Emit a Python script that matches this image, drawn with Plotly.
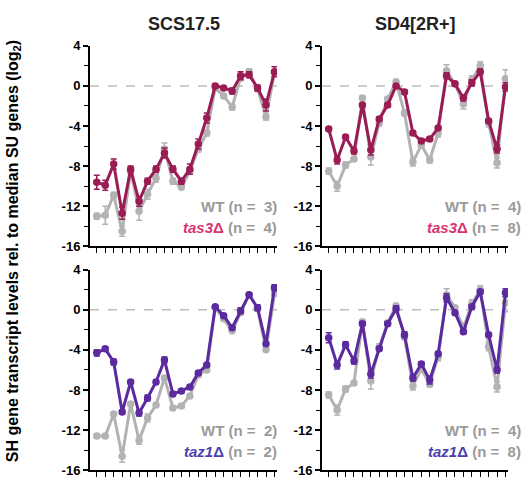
import plotly.graph_objects as go

# Gene positions along the SH cluster (22 genes)
genes = list(range(1, 23))

# SCS17.5 background
wt_scs_a = [-13.0, -12.9, -10.9, -14.5, -8.5, -12.5, -10.8, -9.2, -6.3, -9.5, -10.1, -8.5,
            -6.3, -4.7, -0.2, -1.0, -2.1, 0.8, 1.4, -0.3, -3.1, 1.3]
wt_scs_a_err = [0.3, 0.9, 0.3, 0.5, 0.3, 0.9, 0.5, 0.4, 0.6, 0.3, 0.2, 0.3,
                0.3, 0.3, 0.2, 0.2, 0.3, 0.3, 0.3, 0.2, 0.3, 0.3]
tas3_scs = [-9.6, -9.9, -7.8, -12.7, -8.3, -11.5, -9.5, -8.3, -6.7, -8.3, -9.5, -8.3,
            -5.8, -3.2, 0.0, -0.2, -0.5, 1.0, 1.1, -0.2, -1.9, 1.4]
tas3_scs_err = [0.7, 0.5, 0.5, 0.6, 0.3, 0.5, 0.3, 0.3, 0.5, 0.3, 0.3, 0.5,
                0.5, 0.5, 0.2, 0.1, 0.3, 0.4, 0.3, 0.3, 0.6, 0.5]

wt_scs_b = [-12.6, -12.6, -10.4, -14.6, -9.4, -13.0, -10.8, -9.5, -6.8, -9.8, -9.6, -8.6,
            -6.5, -6.0, 0.2, -0.9, -2.1, -0.3, 1.5, 0.1, -4.0, 1.6]
wt_scs_b_err = [0.2, 0.2, 0.2, 0.6, 0.2, 0.4, 0.4, 0.2, 0.2, 0.2, 0.2, 0.2,
                0.2, 0.2, 0.1, 0.1, 0.1, 0.1, 0.2, 0.1, 0.1, 0.2]
taz1_scs = [-4.3, -3.9, -5.2, -10.2, -7.2, -10.3, -8.8, -7.2, -5.0, -8.4, -8.1, -7.7,
            -6.3, -5.5, 0.3, -0.6, -1.8, -0.1, 1.5, 0.2, -3.4, 2.2]
taz1_scs_err = [0.3, 0.2, 0.3, 0.2, 0.2, 0.3, 0.3, 0.2, 0.3, 0.2, 0.2, 0.2,
                0.2, 0.2, 0.1, 0.2, 0.2, 0.3, 0.2, 0.3, 0.2, 0.3]

# SD4[2R+] background
wt_sd4 = [-8.5, -10.0, -7.9, -7.3, -1.2, -7.1, -3.7, -1.3, 0.4, -2.7, -7.6, -5.9,
          -7.4, -4.7, 1.5, 0.2, -1.8, 0.6, 2.0, -3.7, -7.7, 0.7]
wt_sd4_err = [0.3, 0.5, 0.3, 0.2, 0.2, 0.8, 0.3, 0.2, 0.2, 0.3, 0.4, 0.3,
              0.3, 0.4, 0.6, 0.2, 0.5, 0.4, 0.4, 0.4, 0.5, 0.9]
tas3_sd4 = [-4.3, -7.4, -5.1, -6.5, -1.9, -6.4, -3.3, -1.9, 0.0, -0.6, -4.7, -5.5,
            -5.3, -4.2, 1.0, 0.2, -1.2, 0.3, 1.4, -3.5, -6.3, -0.1]
tas3_sd4_err = [0.2, 0.4, 0.2, 0.3, 0.2, 0.5, 0.2, 0.2, 0.2, 0.2, 0.2, 0.2,
                0.2, 0.2, 0.3, 0.2, 0.3, 0.3, 0.3, 0.2, 0.4, 0.4]
taz1_sd4 = [-2.8, -5.5, -3.5, -5.1, -1.4, -6.4, -3.9, -1.4, 0.1, -2.5, -6.8, -5.4,
            -7.0, -4.4, 1.2, -0.3, -2.2, 0.3, 1.8, -2.5, -6.0, 1.7]
taz1_sd4_err = [0.5, 0.4, 0.3, 0.3, 0.2, 0.4, 0.2, 0.2, 0.3, 0.3, 0.3, 0.2,
                0.4, 0.2, 0.4, 0.2, 0.2, 0.2, 0.2, 0.2, 0.3, 0.4]

titles = ["SCS17.5", "SD4[2R+]"]
y_tickvals = [-16, -12, -8, -4, 0, 4]
y_ticktext = ["-16", "-12", "-8", "-4", "0", "4"]

GRAY = "#b3b3b3"
GRAY_TXT = "#9a9a9a"
TAS3 = "#9b1b55"
TAS3_TXT = "#d8356f"
TAZ1 = "#5a2a9e"
TAZ1_TXT = "#4c3fb0"
FONT = "Liberation Sans, Arial, sans-serif"

W, H = 526, 485
x_dom = [[90 / W, 277 / W], [322 / W, 508 / W]]
y_dom = [[1 - 247 / H, 1 - 40 / H], [1 - 478 / H, 1 - 271 / H]]

panels = [
    # (row, col, wt, wt_err, mut, mut_err, mut colour, mut label colour, mutant name, n_wt, n_mut)
    (0, 0, wt_scs_a, wt_scs_a_err, tas3_scs, tas3_scs_err, TAS3, TAS3_TXT, "tas3", 3, 4),
    (0, 1, wt_sd4, wt_sd4_err, tas3_sd4, tas3_sd4_err, TAS3, TAS3_TXT, "tas3", 4, 8),
    (1, 0, wt_scs_b, wt_scs_b_err, taz1_scs, taz1_scs_err, TAZ1, TAZ1_TXT, "taz1", 2, 2),
    (1, 1, wt_sd4, wt_sd4_err, taz1_sd4, taz1_sd4_err, TAZ1, TAZ1_TXT, "taz1", 4, 8),
]

fig = go.Figure()
annotations = []
shapes = []
layout_axes = {}

for i, (r, c, wt, wt_e, mut, mut_e, col, txtcol, name, n_wt, n_mut) in enumerate(panels):
    k = i + 1
    xa = "x" if k == 1 else f"x{k}"
    ya = "y" if k == 1 else f"y{k}"
    xkey = "xaxis" if k == 1 else f"xaxis{k}"
    ykey = "yaxis" if k == 1 else f"yaxis{k}"

    for vals, errs, colour in ((wt, wt_e, GRAY), (mut, mut_e, col)):
        fig.add_trace(go.Scatter(
            x=genes, y=vals, xaxis=xa, yaxis=ya, mode="lines+markers",
            line=dict(color=colour, width=3),
            marker=dict(color=colour, size=7.5),
            error_y=dict(type="data", array=errs, color=colour, thickness=1.5, width=3),
            showlegend=False, hoverinfo="skip",
        ))

    layout_axes[xkey] = dict(
        domain=x_dom[c], anchor=ya, range=[0.2, 22.3],
        tickvals=genes, showticklabels=False, ticks="outside", ticklen=5,
        tickwidth=1.2, tickcolor="black", showline=True, linecolor="black",
        linewidth=2, showgrid=False, zeroline=False,
    )
    layout_axes[ykey] = dict(
        domain=y_dom[r], anchor=xa, range=[-16, 4],
        tickvals=y_tickvals, ticktext=y_ticktext, ticks="outside", ticklen=5,
        tickwidth=1.5, tickcolor="black", showline=True, linecolor="black",
        linewidth=2, showgrid=False, zeroline=False,
        tickfont=dict(family=FONT, size=13, color="black", weight="bold"),
        minor=dict(tickvals=[-14, -10, -6, -2, 2], ticks="outside", ticklen=4,
                   tickwidth=1.2, tickcolor="black"),
    )

    # dashed reference line at zero
    shapes.append(dict(type="line", xref=f"{xa} domain", yref=ya, x0=0, x1=1, y0=0, y1=0,
                       line=dict(color="#bdbdbd", width=1.5, dash="dash"), layer="below"))

    nb = "\u00a0"
    annotations.append(dict(
        xref=f"{xa} domain", yref=ya, x=1.08 if c == 1 else 1.01, y=-12.0,
        xanchor="right", yanchor="middle", showarrow=False,
        text=f"<b>WT (n ={nb}{nb}{n_wt})</b>",
        font=dict(family=FONT, size=15, color=GRAY_TXT),
    ))
    annotations.append(dict(
        xref=f"{xa} domain", yref=ya, x=1.08 if c == 1 else 1.01, y=-14.1,
        xanchor="right", yanchor="middle", showarrow=False,
        text=(f"<b><span style='color:{txtcol}'><i>{name}</i>\u0394</span>"
              f" (n ={nb}{nb}{n_mut})</b>"),
        font=dict(family=FONT, size=15, color=GRAY_TXT),
    ))

for c, t in enumerate(titles):
    annotations.append(dict(
        xref="paper", yref="paper", x=(x_dom[c][0] + x_dom[c][1]) / 2, y=1 - 18 / H,
        xanchor="center", yanchor="middle", showarrow=False,
        text=f"<b>{t}</b>", font=dict(family=FONT, size=18, color="#222222"),
    ))

annotations.append(dict(
    xref="paper", yref="paper", x=13 / W, y=1 - 252 / H, textangle=-90,
    xanchor="center", yanchor="middle", showarrow=False,
    text="<b>SH gene transcript levels rel. to median SU genes (log<sub>2</sub>)</b>",
    font=dict(family=FONT, size=16, color="black"),
))

fig.update_layout(
    width=W, height=H, margin=dict(l=0, r=0, t=0, b=0),
    paper_bgcolor="white", plot_bgcolor="white",
    annotations=annotations, shapes=shapes, **layout_axes,
)

fig.write_html("out.html")
